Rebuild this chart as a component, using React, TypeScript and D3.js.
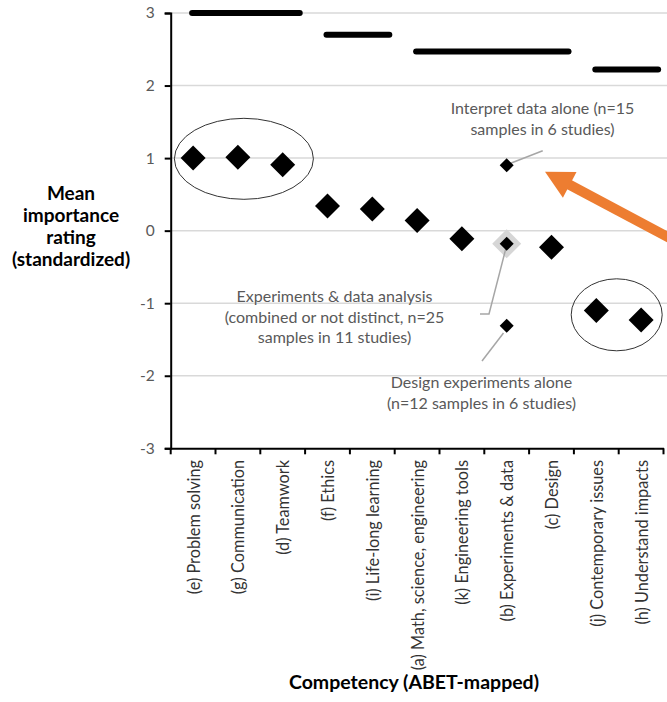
import { useEffect, useRef } from 'react'
import * as d3 from 'd3'

// ABET competencies, ordered by mean importance
const categories = [
  '(e) Problem solving',
  '(g) Communication',
  '(d) Teamwork',
  '(f) Ethics',
  '(i) Life-long learning',
  '(a) Math, science, engineering',
  '(k) Engineering tools',
  '(b) Experiments & data',
  '(c) Design',
  '(j) Contemporary issues',
  '(h) Understand impacts',
]
const meanRatings = [1.0, 1.01, 0.91, 0.34, 0.3, 0.14, -0.11, -0.18, -0.23, -1.1, -1.23]

// split of (b) into its two halves
const splitCategory = '(b) Experiments & data'
const splitRatings = [0.9, -1.31]

// grouping bars across the top
const groupStart = [0, 3, 5, 9]
const groupEnd = [2, 4, 8, 10]
const groupLevel = [3.0, 2.7, 2.47, 2.22]

const yTicks = [-3, -2, -1, 0, 1, 2, 3]

const FONT = 'Lato, "Open Sans", sans-serif'
const GREY_TEXT = '#595959'

export default function App() {
  const ref = useRef<SVGSVGElement | null>(null)

  useEffect(() => {
    const width = 667
    const height = 702
    const svg = d3.select(ref.current)
    svg.selectAll('*').remove()
    svg.attr('viewBox', `0 0 ${width} ${height}`)

    const x = d3.scaleBand<string>().domain(categories).range([170.7, 663.5]).padding(0)
    const y = d3.scaleLinear().domain([-3, 3]).range([448.3, 13])
    const bw = x.bandwidth()
    const cx = (c: string) => (x(c) as number) + bw / 2

    // gridlines
    svg.append('g')
      .selectAll('line')
      .data(yTicks.filter(t => t > -3))
      .join('line')
      .attr('x1', 171).attr('x2', width)
      .attr('y1', d => y(d)).attr('y2', d => y(d))
      .attr('stroke', '#d9d9d9').attr('stroke-width', 1.5)

    // y axis
    const yAxis = svg.append('g').attr('transform', 'translate(170.7,0)')
      .call(d3.axisLeft(y).tickValues(yTicks).tickSize(6).tickFormat(d => String(d)))
    yAxis.select('.domain').attr('stroke', '#000').attr('stroke-width', 2)
    yAxis.selectAll('.tick line').attr('stroke', '#000').attr('stroke-width', 2)
    yAxis.selectAll('.tick text')
      .attr('x', -16)
      .attr('fill', GREY_TEXT)
      .style('font-family', FONT)
      .style('font-size', '15.5px')

    // x axis
    const xAxis = svg.append('g').attr('transform', `translate(0,${y(-3)})`)
      .call(d3.axisBottom(x).tickSize(0).tickFormat(() => ''))
    xAxis.select('.domain').attr('stroke', '#000').attr('stroke-width', 2)
    const edges = categories.map(c => x(c) as number).concat([(x(categories[categories.length - 1]) as number) + bw])
    xAxis.selectAll('line.edge')
      .data(edges)
      .join('line')
      .attr('class', 'edge')
      .attr('x1', d => d).attr('x2', d => d)
      .attr('y1', 0).attr('y2', 6)
      .attr('stroke', '#000').attr('stroke-width', 2)

    // category labels, rotated
    svg.append('g')
      .selectAll('text')
      .data(categories)
      .join('text')
      .attr('transform', d => `translate(${cx(d)},460) rotate(-90)`)
      .attr('text-anchor', 'end')
      .attr('dominant-baseline', 'central')
      .attr('fill', '#333')
      .style('font-family', FONT)
      .style('font-size', '16.3px')
      .text(d => d)

    // grouping bars
    svg.append('g')
      .selectAll('line')
      .data(groupLevel)
      .join('line')
      .attr('x1', (_, i) => cx(categories[groupStart[i]]) - 1)
      .attr('x2', (_, i) => cx(categories[groupEnd[i]]) + bw * 0.38)
      .attr('y1', d => y(d)).attr('y2', d => y(d))
      .attr('stroke', '#000').attr('stroke-width', 6).attr('stroke-linecap', 'round')

    const diamond = (half: number) => d3.symbol().type(d3.symbolSquare).size(2 * half * half)()

    // grey halo behind the combined (b) rating
    svg.append('path')
      .attr('d', diamond(14.5))
      .attr('transform', `translate(${cx(splitCategory)},${y(meanRatings[categories.indexOf(splitCategory)])}) rotate(45)`)
      .attr('fill', '#d6d6d6')

    // pointer lines (under markers)
    const pointers = svg.append('g').attr('fill', 'none').attr('stroke', '#a6a6a6').attr('stroke-width', 1.5)
    pointers.append('path').attr('d', 'M510,163.5 L542.7,150.7')
    pointers.append('path').attr('d', 'M506.5,246 L489,314 L480,314')
    pointers.append('path').attr('d', 'M503.5,333 L482,361')

    // mean ratings
    svg.append('g')
      .selectAll('path')
      .data(meanRatings)
      .join('path')
      .attr('d', (_, i) => diamond(categories[i] === splitCategory ? 7 : 12.5))
      .attr('transform', (d, i) => `translate(${cx(categories[i])},${y(d)}) rotate(45)`)
      .attr('fill', '#000')

    // split ratings
    svg.append('g')
      .selectAll('path')
      .data(splitRatings)
      .join('path')
      .attr('d', diamond(7))
      .attr('transform', d => `translate(${cx(splitCategory)},${y(d)}) rotate(45)`)
      .attr('fill', '#000')

    // ellipses
    svg.append('ellipse')
      .attr('cx', cx(categories[1]) + 6).attr('cy', y(0.99))
      .attr('rx', 69.5).attr('ry', 40.5)
      .attr('fill', 'none').attr('stroke', '#333').attr('stroke-width', 1)
    svg.append('ellipse')
      .attr('cx', (cx(categories[9]) + cx(categories[10])) / 2 - 2).attr('cy', y(-1.16))
      .attr('rx', 45.5).attr('ry', 36)
      .attr('fill', 'none').attr('stroke', '#333').attr('stroke-width', 1)

    // annotations
    const note = (lines: string[], px: number, py: number[]) => {
      lines.forEach((t, i) => {
        svg.append('text')
          .attr('x', px).attr('y', py[i])
          .attr('text-anchor', 'middle')
          .attr('dominant-baseline', 'central')
          .attr('fill', GREY_TEXT)
          .style('font-family', FONT)
          .style('font-size', '16px')
          .text(t)
      })
    }
    note(['Interpret data alone (n=15', 'samples in 6 studies)'], 542.5, [107.3, 128.3])
    note(['Experiments & data analysis', '(combined or not distinct, n=25', 'samples in 11 studies)'], 334.5, [295, 316, 336.7])
    note(['Design experiments alone', '(n=12 samples in 6 studies)'], 481.5, [381.7, 402.7])

    // orange arrow
    const tip: [number, number] = [545, 171.7]
    const dir = [122, 65]
    const len = Math.hypot(dir[0], dir[1])
    const ux = dir[0] / len
    const uy = dir[1] / len
    const headLen = 28
    const headHalf = 14.5
    const bx = tip[0] + ux * headLen
    const by = tip[1] + uy * headLen
    svg.append('line')
      .attr('x1', bx - ux * 4).attr('y1', by - uy * 4)
      .attr('x2', tip[0] + ux * 220).attr('y2', tip[1] + uy * 220)
      .attr('stroke', '#ed7d31').attr('stroke-width', 10)
    svg.append('polygon')
      .attr('points', [
        tip,
        [bx - uy * headHalf, by + ux * headHalf],
        [bx + uy * headHalf, by - ux * headHalf],
      ].map(p => p.join(',')).join(' '))
      .attr('fill', '#ed7d31')

    // axis titles
    ;['Mean', 'importance', 'rating', '(standardized)'].forEach((t, i) => {
      svg.append('text')
        .attr('x', 71).attr('y', 192 + i * 22.2)
        .attr('text-anchor', 'middle')
        .attr('dominant-baseline', 'central')
        .attr('fill', '#000')
        .style('font-family', FONT)
        .style('font-weight', 'bold')
        .style('font-size', '19px')
        .text(t)
    })
    svg.append('text')
      .attr('x', 414).attr('y', 681.7)
      .attr('text-anchor', 'middle')
      .attr('dominant-baseline', 'central')
      .attr('fill', '#000')
      .style('font-family', FONT)
      .style('font-weight', 'bold')
      .style('font-size', '19.5px')
      .text('Competency (ABET-mapped)')
  }, [])

  return (
    <svg
      ref={ref}
      width={667}
      height={702}
      style={{ position: 'absolute', left: 0, top: 0, background: '#fff' }}
    />
  )
}
